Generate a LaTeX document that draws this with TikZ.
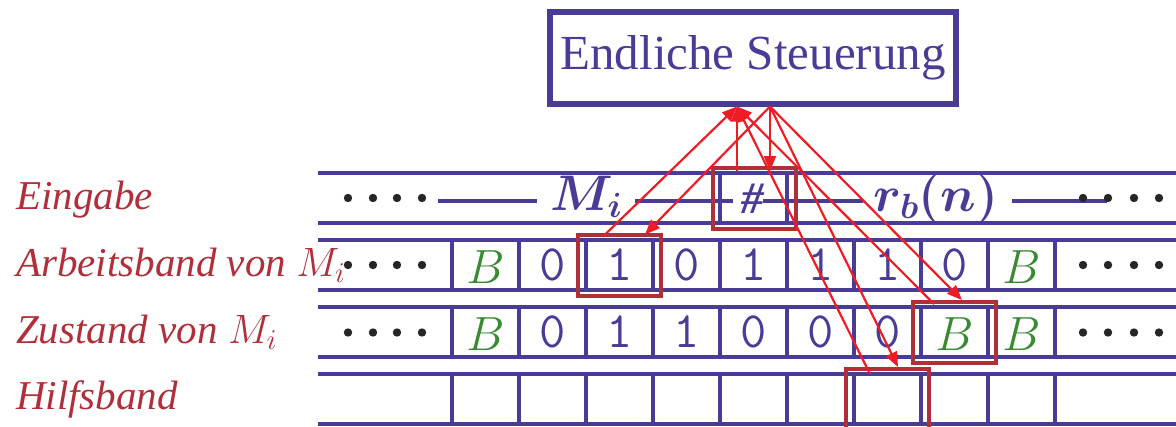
\RequirePackage{fix-cm}
\documentclass[tikz,border=0pt]{standalone}
\usepackage{fontspec}
\setmainfont{Liberation Serif}
\usetikzlibrary{arrows.meta}
\definecolor{tblue}{HTML}{483C96}
\definecolor{hred}{HTML}{B0303A}
\definecolor{ared}{HTML}{EE1C24}
\definecolor{lred}{HTML}{B02F3A}
\definecolor{bgreen}{HTML}{3A8A34}
\begin{document}
\begin{tikzpicture}[x=1pt,y=-1pt,
  tapeline/.style={draw=tblue,line width=4pt},
  midline/.style={draw=tblue,line width=3.5pt},
  ctrlbox/.style={draw=tblue,line width=6pt,minimum width=406pt,minimum height=91.5pt,inner sep=0pt,
     text=tblue,text height=24pt,text depth=0pt,font=\fontsize{49}{58}\selectfont},
  headbox/.style={draw=hred,line width=4pt,minimum width=83pt,minimum height=61pt,inner sep=0pt},
  arr/.style={draw=ared,line width=2.2pt,-{Triangle[length=15pt,width=12pt]}},
  lbl/.style={anchor=base west,inner sep=0pt,text=lred,font=\fontsize{41}{48}\selectfont\itshape},
  digit/.style={anchor=base,inner sep=0pt,text=tblue,font=\fontsize{51}{58}\selectfont\ttfamily},
  blank/.style={anchor=base,inner sep=0pt,text=bgreen,font=\fontsize{48}{56}\selectfont},
  big/.style={anchor=base,inner sep=0pt,text=tblue,font=\fontsize{50}{58}\selectfont\boldmath},
  hash/.style={anchor=base,inner sep=0pt,text=tblue,font=\fontsize{45}{52}\selectfont\bfseries\itshape},
  dot/.style={fill=black!85}
]
\useasboundingbox (0,0) rectangle (1176,426);

% control unit
\node[ctrlbox] (ctrl) at (753,57.75) {Endliche Steuerung};

% tape lines
\foreach \t/\b in {173/223,240/290,307/357,374/424}{
  \draw[tapeline] (318,\t) -- (1180,\t);
  \draw[tapeline] (318,\b) -- (1180,\b);
}
% cell walls, rows 2-4
\foreach \t/\b in {240/290,307/357,374/424}{
  \foreach \x in {452,519,...,1055}{
    \draw[tapeline] (\x,\t) -- (\x,\b);
  }
}
% cell walls round #
\draw[tapeline] (720,173) -- (720,223);
\draw[tapeline] (787,173) -- (787,223);

% input row lines
\draw[midline] (438,201) -- (537,201);
\draw[midline] (635,201) -- (733,201);
\draw[midline] (763,201) -- (863,201);
\draw[midline] (1012,201) -- (1107,201);

% dots
\foreach \y in {198,265,332.5}{
  \foreach \x in {348,373,397,422,1083,1108,1134,1159}{
    \fill[dot] (\x,\y) circle (4.2pt);
  }
}

% head boxes
\node[headbox] (hb1) at (754.5,198.5) {};
\node[headbox] (hb2) at (619.5,265) {};
\node[headbox] (hb3) at (954.5,332.5) {};
\node[headbox] (hb4) at (887.5,399.5) {};

% input row text
\node[big] (mi) at (586.5,210) {$M_i$};
\node[hash] (hs) at (753,213) {\#};
\node[big] (rb) at (936,211) {$r_b(n)$};

% work tape
\foreach \k/\d in {2/0,3/1,4/0,5/1,6/1,7/1,8/0}{
  \node[digit] (a\k) at (418.5+67*\k,280) {\d};
}
\foreach \k in {1,9}{
  \node[blank] (ab\k) at (418.5+67*\k,283.5) {$B$};
}
% state tape
\foreach \k/\d in {2/0,3/1,4/1,5/0,6/0,7/0}{
  \node[digit] (z\k) at (418.5+67*\k,347) {\d};
}
\foreach \k in {1,8,9}{
  \node[blank] (zb\k) at (418.5+67*\k,350.5) {$B$};
}

% labels
\node[lbl] (l1) at (16,209) {Eingabe};
\node[lbl] (l2) at (16,276) {Arbeitsband von $M_i$};
\node[lbl] (l3) at (16,343) {Zustand von $M_i$};
\node[lbl] (l4) at (16,409) {Hilfsband};

% arrows
\coordinate (c1) at ([xshift=-16pt]ctrl.south);
\coordinate (c2) at ([xshift=17pt]ctrl.south);
\draw[arr] ([xshift=-17.5pt,yshift=-5pt]hb1.north) -- (c1);
\draw[arr] ([xshift=-16.5pt,yshift=-4pt]hb2.north) -- (c1);
\draw[arr] ([xshift=-20.5pt,yshift=-4pt]hb3.north) -- (c1);
\draw[arr] ([xshift=-17.5pt,yshift=-7pt]hb4.north) -- (c1);
\draw[arr] (c2) -- ([xshift=15.5pt,yshift=-5pt]hb1.north);
\draw[arr] (c2) -- ([xshift=25.5pt,yshift=-2pt]hb2.north);
\draw[arr] (c2) -- ([xshift=7.5pt]hb3.north);
\draw[arr] (c2) -- ([xshift=10.5pt]hb4.north);
\end{tikzpicture}
\end{document}
